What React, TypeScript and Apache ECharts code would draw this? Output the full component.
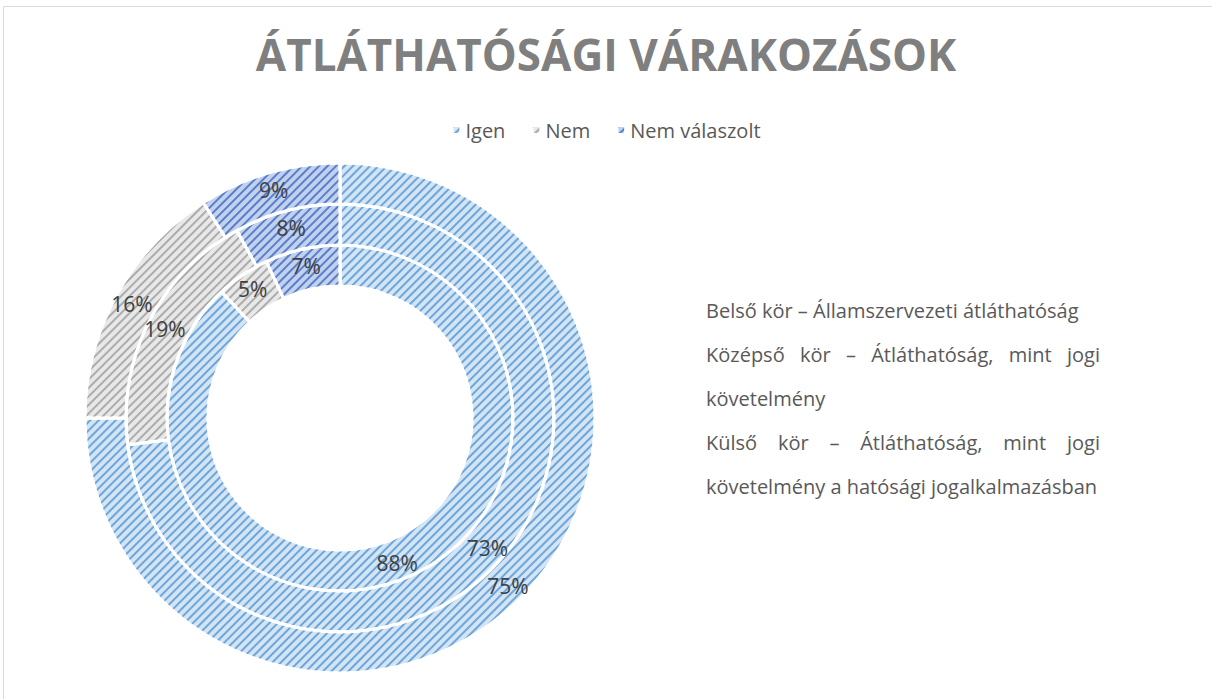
import React, { useEffect, useRef } from "react";
import * as echarts from "echarts";

const categories = ["Igen", "Nem", "Nem válaszolt"];
const innerValues = [88, 5, 7]; // Belső kör
const middleValues = [73, 19, 8]; // Középső kör
const outerValues = [75, 16, 9]; // Külső kör

const titleText = "ÁTLÁTHATÓSÁGI VÁRAKOZÁSOK";
const noteLines = [
  { text: "Belső kör – Államszervezeti átláthatóság", justify: false },
  { text: "Középső kör – Átláthatóság, mint jogi", justify: true },
  { text: "követelmény", justify: false },
  { text: "Külső kör – Átláthatóság, mint jogi", justify: true },
  { text: "követelmény a hatósági jogalkalmazásban", justify: false },
];

const baseColors = ["#d3e4f5", "#e8e8e8", "#c3d1ef"];
const stripeColors = ["rgba(91,155,213,0.85)", "rgba(165,165,165,0.9)", "rgba(68,114,196,0.85)"];

const FONT = "'Open Sans', 'Noto Sans', sans-serif";

function makeData(values: number[]) {
  return values.map((v, i) => ({
    name: categories[i],
    value: v,
    itemStyle: {
      color: baseColors[i],
      decal: {
        symbol: "rect",
        symbolSize: 1,
        dashArrayX: [1, 0],
        dashArrayY: [1.6, 3.4],
        rotation: -Math.PI / 4,
        color: stripeColors[i],
      },
    },
  }));
}

export default function App() {
  const ref = useRef<HTMLDivElement>(null);

  useEffect(() => {
    if (!ref.current) return;
    const chart = echarts.init(ref.current, undefined, { renderer: "svg" });

    const canvas = document.createElement("canvas");
    const ctx = canvas.getContext("2d")!;
    const noteFontSize = 20;
    ctx.font = `${noteFontSize}px 'Open Sans'`;
    const left = 706;
    const right = 1100;
    const width = right - left;
    const lineY0 = 310;
    const lineStep = 44;
    const noteElements: any[] = [];
    noteLines.forEach((ln, idx) => {
      const y = lineY0 + idx * lineStep;
      if (!ln.justify) {
        noteElements.push({
          type: "text",
          x: left,
          y,
          style: {
            text: ln.text,
            font: `${noteFontSize}px ${FONT}`,
            fill: "#595959",
            textAlign: "left",
            textVerticalAlign: "middle",
          },
        });
      } else {
        const words = ln.text.split(" ");
        const ws = words.map((w) => ctx.measureText(w).width);
        const total = ws.reduce((a, b) => a + b, 0);
        const gap = (width - total) / (words.length - 1);
        let x = left;
        words.forEach((w, k) => {
          noteElements.push({
            type: "text",
            x,
            y,
            style: {
              text: w,
              font: `${noteFontSize}px ${FONT}`,
              fill: "#595959",
              textAlign: "left",
              textVerticalAlign: "middle",
            },
          });
          x += ws[k] + gap;
        });
      }
    });

    const center = [340, 418];
    const ringBase = {
      type: "pie",
      center,
      startAngle: 90,
      clockwise: true,
      avoidLabelOverlap: false,
      label: {
        show: true,
        position: "inside",
        formatter: "{c}%",
        color: "#404040",
        fontSize: 21,
        fontFamily: FONT,
      },
      labelLine: { show: false },
      emphasis: { disabled: true },
      itemStyle: { borderColor: "#ffffff", borderWidth: 3 },
    };

    chart.setOption({
      animation: false,
      backgroundColor: "#ffffff",
      title: {
        text: titleText,
        left: "center",
        top: 27,
        textStyle: {
          fontFamily: FONT,
          fontSize: 44,
          fontWeight: "bold",
          color: "#7f7f7f",
        },
      },
      legend: {
        data: categories,
        top: 115,
        left: "center",
        icon: "rect",
        itemWidth: 8,
        itemHeight: 8,
        itemGap: 26,
        textStyle: { fontFamily: FONT, fontSize: 20, color: "#595959" },
      },
      graphic: [
        {
          type: "rect",
          shape: { x: 3.5, y: 6.5, width: 1300, height: 800 },
          style: { fill: "none", stroke: "#d9d9d9", lineWidth: 1 },
          silent: true,
        },
        ...noteElements,
      ],
      series: [
        { ...ringBase, name: "Belső kör", radius: [132, 173], data: makeData(innerValues) },
        { ...ringBase, name: "Középső kör", radius: [173, 214], data: makeData(middleValues) },
        { ...ringBase, name: "Külső kör", radius: [214, 255], data: makeData(outerValues) },
      ],
    });

    return () => chart.dispose();
  }, []);

  return (
    <div
      ref={ref}
      style={{ position: "fixed", left: 0, top: 0, width: 1212, height: 699 }}
    />
  );
}
